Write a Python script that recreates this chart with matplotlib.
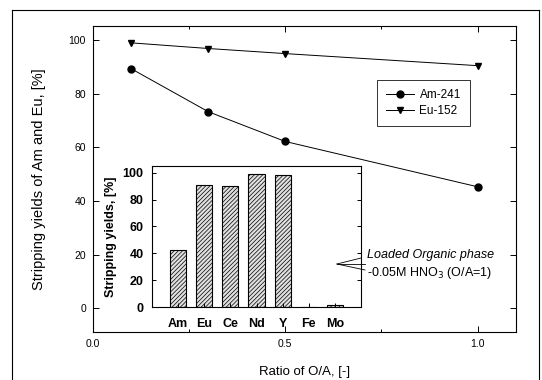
import matplotlib
matplotlib.use("Agg")
import matplotlib.pyplot as plt
from matplotlib.lines import Line2D

plt.rcParams['font.family'] = ['Liberation Sans', 'DejaVu Sans']
plt.rcParams['hatch.color'] = '#8a8a8a'
plt.rcParams['hatch.linewidth'] = 0.5

ratio = [0.1, 0.3, 0.5, 1.0]
am241 = [89.3, 73.3, 62.2, 45.3]
eu152 = [99.0, 96.9, 95.0, 90.5]

elements = ['Am', 'Eu', 'Ce', 'Nd', 'Y', 'Fe', 'Mo']
strip = [42.5, 90.7, 89.9, 98.8, 98.3, 0.0, 1.4]

W, H = 542, 380
fig = plt.figure(figsize=(W/100, H/100), dpi=100)

def fx(px): return px / W
def fy(py): return 1 - py / H

# main axes
L, R, T, B = 93, 516, 26, 332
ax = fig.add_axes([fx(L), fy(B), fx(R) - fx(L), fy(T) - fy(B)])
ax.plot(ratio, am241, color='black', lw=0.7, marker='o', ms=5, label='Am-241')
ax.plot(ratio, eu152, color='black', lw=0.7, marker='v', ms=5, label='Eu-152')
ax.set_xlim(0, 1.1)
ax.set_ylim(-8.9, 105.3)
ax.set_xticks([0.0, 0.5, 1.0])
ax.set_xticklabels(['0.0', '0.5', '1.0'])
ax.set_xticks([0.25, 0.75], minor=True)
ax.set_yticks([0, 20, 40, 60, 80, 100])
ax.tick_params(direction='in', labelsize=7.5, length=4, width=0.7, right=True, top=True, pad=5)
ax.tick_params(which='minor', direction='in', length=2.5, width=0.7, bottom=True, top=True)
for s in ax.spines.values():
    s.set_linewidth(0.8)
ax.set_ylabel('Stripping yields of Am and Eu, [%]', fontsize=10.5, labelpad=16)
ax.set_xlabel('Ratio of O/A, [-]', fontsize=9.5, labelpad=12)
leg = ax.legend(loc='upper left', bbox_to_anchor=((377 - L) / (R - L), 1 - (80 - T) / (B - T)),
                borderaxespad=0, fontsize=8.5, frameon=True, fancybox=False, edgecolor='black',
                handlelength=2.3, handletextpad=0.5, borderpad=0.8, labelspacing=0.3)
leg.get_frame().set_linewidth(0.7)

# inset
iL, iR, iT, iB = 152, 361, 166, 307
axi = fig.add_axes([fx(iL), fy(iB), fx(iR) - fx(iL), fy(iT) - fy(iB)])
pos = list(range(1, len(elements) + 1))
axi.bar(pos, strip, width=0.62, facecolor='#e0e0e0', edgecolor='black', linewidth=0.8, hatch='////////')
axi.set_xlim(0, 8)
axi.set_ylim(0, 105)
axi.set_xticks(pos)
axi.set_xticklabels(elements, fontweight='bold', fontsize=9)
axi.set_yticks([0, 20, 40, 60, 80, 100])
axi.set_yticklabels(['0', '20', '40', '60', '80', '100'], fontweight='bold', fontsize=9)
axi.tick_params(axis='x', direction='in', length=3, width=0.7, pad=8)
axi.tick_params(axis='y', direction='in', length=3, width=0.7, right=True, pad=6)
axi.set_ylabel('Stripping yields, [%]', fontweight='bold', fontsize=9, labelpad=4)
for s in axi.spines.values():
    s.set_linewidth(0.8)

# annotation
fig.text(fx(367), fy(255), 'Loaded Organic phase', fontsize=9, ha='left', va='center', style='italic')
fig.text(fx(367), fy(273), r'-0.05M HNO$_3$ (O/A=1)', fontsize=9, ha='left', va='center')
tipx, tipy = fx(337), fy(264)
for ex, ey in [(361, 258), (365, 264), (365, 270)]:
    fig.add_artist(Line2D([tipx, fx(ex)], [tipy, fy(ey)], transform=fig.transFigure, color='black', lw=0.6))

# scanned frame
fig.add_artist(Line2D([fx(12), fx(12)], [fy(10), 0], transform=fig.transFigure, color='black', lw=0.8))
fig.add_artist(Line2D([fx(12), fx(539)], [fy(10), fy(10)], transform=fig.transFigure, color='black', lw=0.8))
fig.add_artist(Line2D([fx(539), fx(539)], [fy(10), 0], transform=fig.transFigure, color='black', lw=0.8))

fig.savefig('out.png', dpi=100)
